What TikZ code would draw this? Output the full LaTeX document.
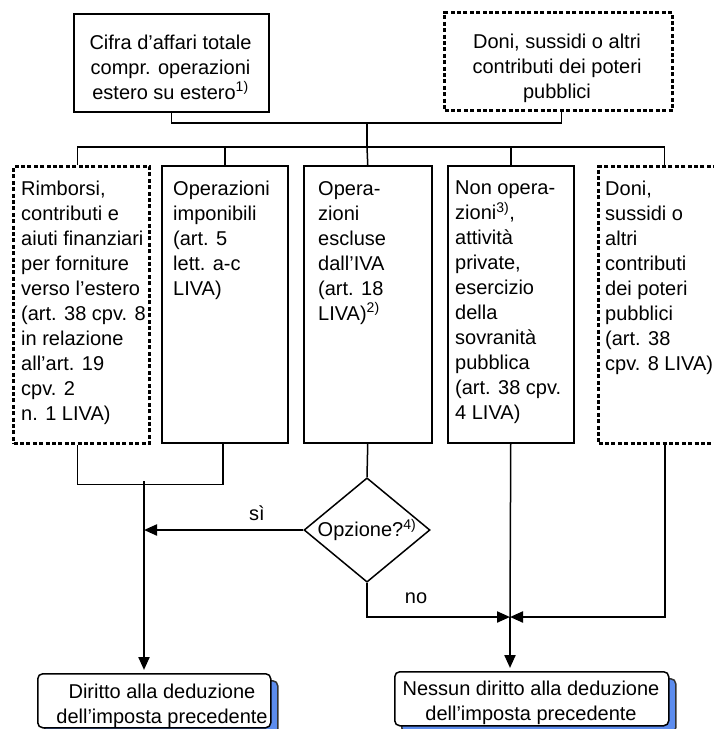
\documentclass[tikz,border=0pt]{standalone}
\usepackage{fontspec}
\setmainfont{Liberation Sans}
\usetikzlibrary{arrows.meta,shapes.geometric,shadows}
\definecolor{sblue}{RGB}{92,140,238}
\tikzset{
  every node/.style={font=\fontsize{20pt}{25pt}\selectfont},
  solidbox/.style={draw, line width=1.5pt, inner sep=0pt, anchor=north west},
  dotbox/.style={draw, line width=3.3pt, dash pattern=on 4pt off 2.4pt, inner sep=0pt, anchor=north west},
  txt/.style={inner sep=0pt, align=left, anchor=north west},
  ctxt/.style={inner sep=0pt, align=center, anchor=north},
  conn/.style={line width=1.5pt},
  arr/.style={line width=2.2pt, -{Triangle[length=13pt,width=11pt]}},
  endbox/.style={draw, line width=1.5pt, rounded corners=5pt, inner sep=0pt, anchor=north west, fill=white,
    drop shadow={shadow xshift=7pt, shadow yshift=-7pt, fill=sblue, draw=black!80, opacity=1}},
}
\begin{document}
\begin{tikzpicture}[x=1pt,y=-1pt]
\useasboundingbox (0,0) rectangle (714,729);
\clip (0,0) rectangle (714,729);
% top boxes
\node[solidbox, minimum width=195pt, minimum height=98pt] (T1) at (73,13) {};
\node[ctxt] (T1t) at (170.5,34.5) {Cifra d’affari totale\\compr. operazioni\\estero su estero\textsuperscript{1)}};
\node[dotbox, minimum width=228pt, minimum height=98pt] (T2) at (443,11) {};
\node[ctxt] (T2t) at (557,33.5) {Doni, sussidi o altri\\contributi dei poteri\\pubblici};
% row boxes
\node[dotbox, minimum width=136pt, minimum height=277pt] (A) at (12,165) {};
\node[txt] (At) at (21,181) {Rimborsi,\\contributi e\\aiuti finanziari\\per forniture\\verso l’estero\\(art. 38 cpv. 8\\in relazione\\all’art. 19\\cpv. 2\\n. 1 LIVA)};
\node[solidbox, minimum width=126pt, minimum height=277pt] (B) at (161,165) {};
\node[txt] (Bt) at (173,181) {Operazioni\\imponibili\\(art. 5\\lett. a-c\\LIVA)};
\node[solidbox, minimum width=128pt, minimum height=277pt] (C) at (303,165) {};
\node[txt] (Ct) at (318,181) {Opera-\\zioni\\escluse\\dall’IVA\\(art. 18\\LIVA)\textsuperscript{2)}};
\node[solidbox, minimum width=126pt, minimum height=277pt] (D) at (447,165) {};
\node[txt] (Dt) at (455,181) {Non opera-\\zioni\textsuperscript{3)},\\attività\\private,\\esercizio\\della\\sovranità\\pubblica\\(art. 38 cpv.\\4 LIVA)};
\node[dotbox, minimum width=132pt, minimum height=277pt] (E) at (597,165) {};
\node[txt] (Et) at (605,181) {Doni,\\sussidi o\\altri\\contributi\\dei poteri\\pubblici\\(art. 38\\cpv. 8 LIVA)};
% decision
\node[draw, diamond, line width=1.5pt, inner sep=-4pt, minimum width=126pt, minimum height=77pt] (Q) at (367,530) {Opzione?\textsuperscript{4)}};
% end boxes
\node[endbox, minimum width=233pt, minimum height=54pt] (R1) at (37,673) {};
\node[ctxt] (R1t) at (162,683.5) {Diritto alla deduzione\\dell’imposta precedente};
\node[endbox, minimum width=274pt, minimum height=54pt] (R2) at (394,671) {};
\node[ctxt] (R2t) at (531,680.5) {Nessun diritto alla deduzione\\dell’imposta precedente};
% junctions
\coordinate (j1) at (367,123);
\coordinate (j2) at (367,147);
\coordinate (m1) at (144,481);
\coordinate (m2) at (510,617);
% top connectors
\draw[conn] (T1.south) |- (j1);
\draw[conn] ([xshift=3pt]T2.south) |- (j1);
\draw[conn] (j1) -- (j2);
\draw[conn] (j2) -| ([xshift=-4pt]A.north);
\draw[conn] (j2) -| (B.north);
\draw[conn] (j2) -- (C.north);
\draw[conn] (j2) -| (D.north);
\draw[conn] (j2) -| (E.north);
% lower connectors
\draw[conn] ([xshift=-4pt]A.south) -- ++(0,39) -| ([xshift=-2pt]B.south);
\draw[arr, shorten >=3pt] (m1) -- (m1 |- R1.north);
\draw[conn] (C.south) -- (Q.north);
\draw[arr] (Q.west) -- (Q.west -| m1);
\node (si) at (257,513) {sì};
\draw[arr] (Q.south) |- (m2);
\node (no) at (416,598) {no};
\draw[conn] (D.south) -- (m2);
\draw[arr] (E.south) |- (m2);
\draw[arr, shorten >=3pt] (m2) -- (m2 |- R2.north);
\end{tikzpicture}
\end{document}
